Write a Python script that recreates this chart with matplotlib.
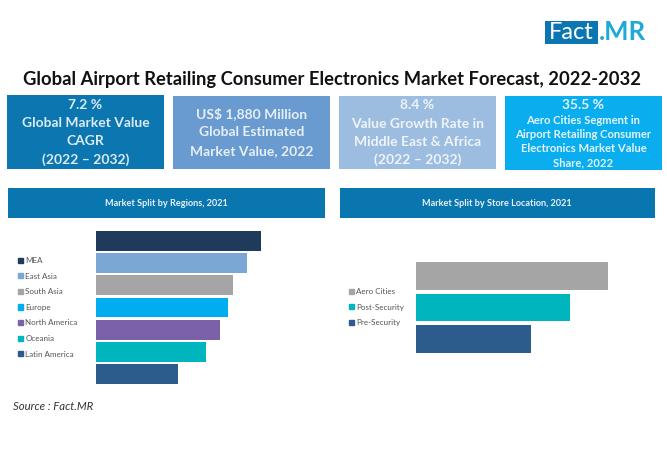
import matplotlib
matplotlib.use("Agg")
import matplotlib.pyplot as plt
from matplotlib.patches import Rectangle

plt.rcParams['font.family'] = ['Lato', 'DejaVu Sans']

W, H = 667, 454

regions = ['MEA', 'East Asia', 'South Asia', 'Europe', 'North America', 'Oceania', 'Latin America']
region_values = [100, 91.5, 83, 80, 75.2, 66.7, 49.7]
region_colors = ['#1F3A5A', '#7BA7D4', '#A5A5A5', '#00AEEF', '#7B62A8', '#00B5BD', '#2C5C8C']

locations = ['Aero Cities', 'Post-Security', 'Pre-Security']
location_values = [35.5, 28.4, 21.3]
location_colors = ['#A5A5A5', '#00B5BD', '#2C5C8C']

title = 'Global Airport Retailing Consumer Electronics Market Forecast, 2022-2032'
header_left = 'Market Split by Regions, 2021'
header_right = 'Market Split by Store Location, 2021'
source = 'Source : Fact.MR'

# box: left, top, right, bottom, colour, text colour, then (text, size, y) per line
boxes = [
    (7, 95, 164, 169, '#0B76B0', '#DCEBF5',
     [('7.2 %', 10, 105), ('Global Market Value', 10, 123), ('CAGR', 10, 141), ('(2022 – 2032)', 10, 160)]),
    (173, 96, 330, 169, '#6A9BD0', '#E6EFF8',
     [('US$ 1,880 Million', 10, 114), ('Global Estimated', 10, 132), ('Market Value, 2022', 10, 151)]),
    (339, 96, 496, 169, '#9DBDE0', '#EEF4FA',
     [('8.4 %', 10, 105), ('Value Growth Rate in', 10, 124), ('Middle East & Africa', 10, 142), ('(2022 – 2032)', 10, 160)]),
    (505, 96, 662, 170, '#0AADEE', '#E3F5FD',
     [('35.5 %', 10, 105), ('Aero Cities Segment in', 8.1, 121), ('Airport Retailing Consumer', 8.1, 135),
      ('Electronics Market Value', 8.1, 149), ('Share, 2022', 8.1, 163)]),
]


def px_axes(fig, left, top, right, bottom):
    return fig.add_axes([left / W, 1 - bottom / H, (right - left) / W, (bottom - top) / H])


def bar_panel(fig, rect, labels, values, colors, gap, legend_xy, spacing):
    ax = px_axes(fig, *rect)
    ax.barh(labels, values, height=gap, color=colors)
    ax.set_xlim(0, max(values))
    ax.set_ylim(len(labels) - 0.5, -0.5)
    ax.axis('off')
    handles = [Rectangle((0, 0), 1, 1, color=c) for c in colors]
    fig.legend(handles, labels, loc='upper left', bbox_to_anchor=(legend_xy[0] / W, 1 - legend_xy[1] / H),
               frameon=False, fontsize=5.8, labelcolor='#555555', handlelength=0.62, handleheight=0.62,
               handletextpad=0.3, labelspacing=spacing, borderpad=0, borderaxespad=0)


fig = plt.figure(figsize=(W / 100, H / 100), dpi=100)

# overlay in image pixels for the infographic furniture
bg = fig.add_axes([0, 0, 1, 1])
bg.set_xlim(0, W)
bg.set_ylim(H, 0)
bg.axis('off')

bg.text(332, 80, title, ha='center', va='center', fontsize=13.25, fontweight='bold', color='#111111')

for left, top, right, bottom, color, text_color, lines in boxes:
    bg.add_patch(Rectangle((left, top), right - left, bottom - top, color=color, lw=0))
    for line, size, y in lines:
        bg.text((left + right) / 2, y, line, ha='center', va='center', fontsize=size, fontweight='bold', color=text_color)

for left, right, label in [(8, 325, header_left), (340, 655, header_right)]:
    bg.add_patch(Rectangle((left, 188), right - left, 30, color='#0A76B0', lw=0))
    bg.text((left + right) / 2 - 0.5, 203.5, label, ha='center', va='center', fontsize=6.6, fontweight='bold', color='#E8F2F8')

# logo
bg.add_patch(Rectangle((545, 21), 53, 23, color='#0B76B0', lw=0))
bg.text(571.5, 32.5, 'Fact', ha='center', va='center', fontsize=17, color='white')
bg.text(599, 32.5, '.MR', ha='left', va='center', fontsize=18.5, fontweight='bold', color='#1FA9D6')

bg.text(13, 406.5, source, ha='left', va='center', fontsize=8.2, style='italic', color='#333333')

bar_panel(fig, (96, 230, 261, 385), regions, region_values, region_colors, 0.9, (18, 257), 1.07)
bar_panel(fig, (415.7, 260.5, 608, 354.5), locations, location_values, location_colors, 0.88, (349, 288), 1.07)

fig.savefig('out.png', dpi=100)
